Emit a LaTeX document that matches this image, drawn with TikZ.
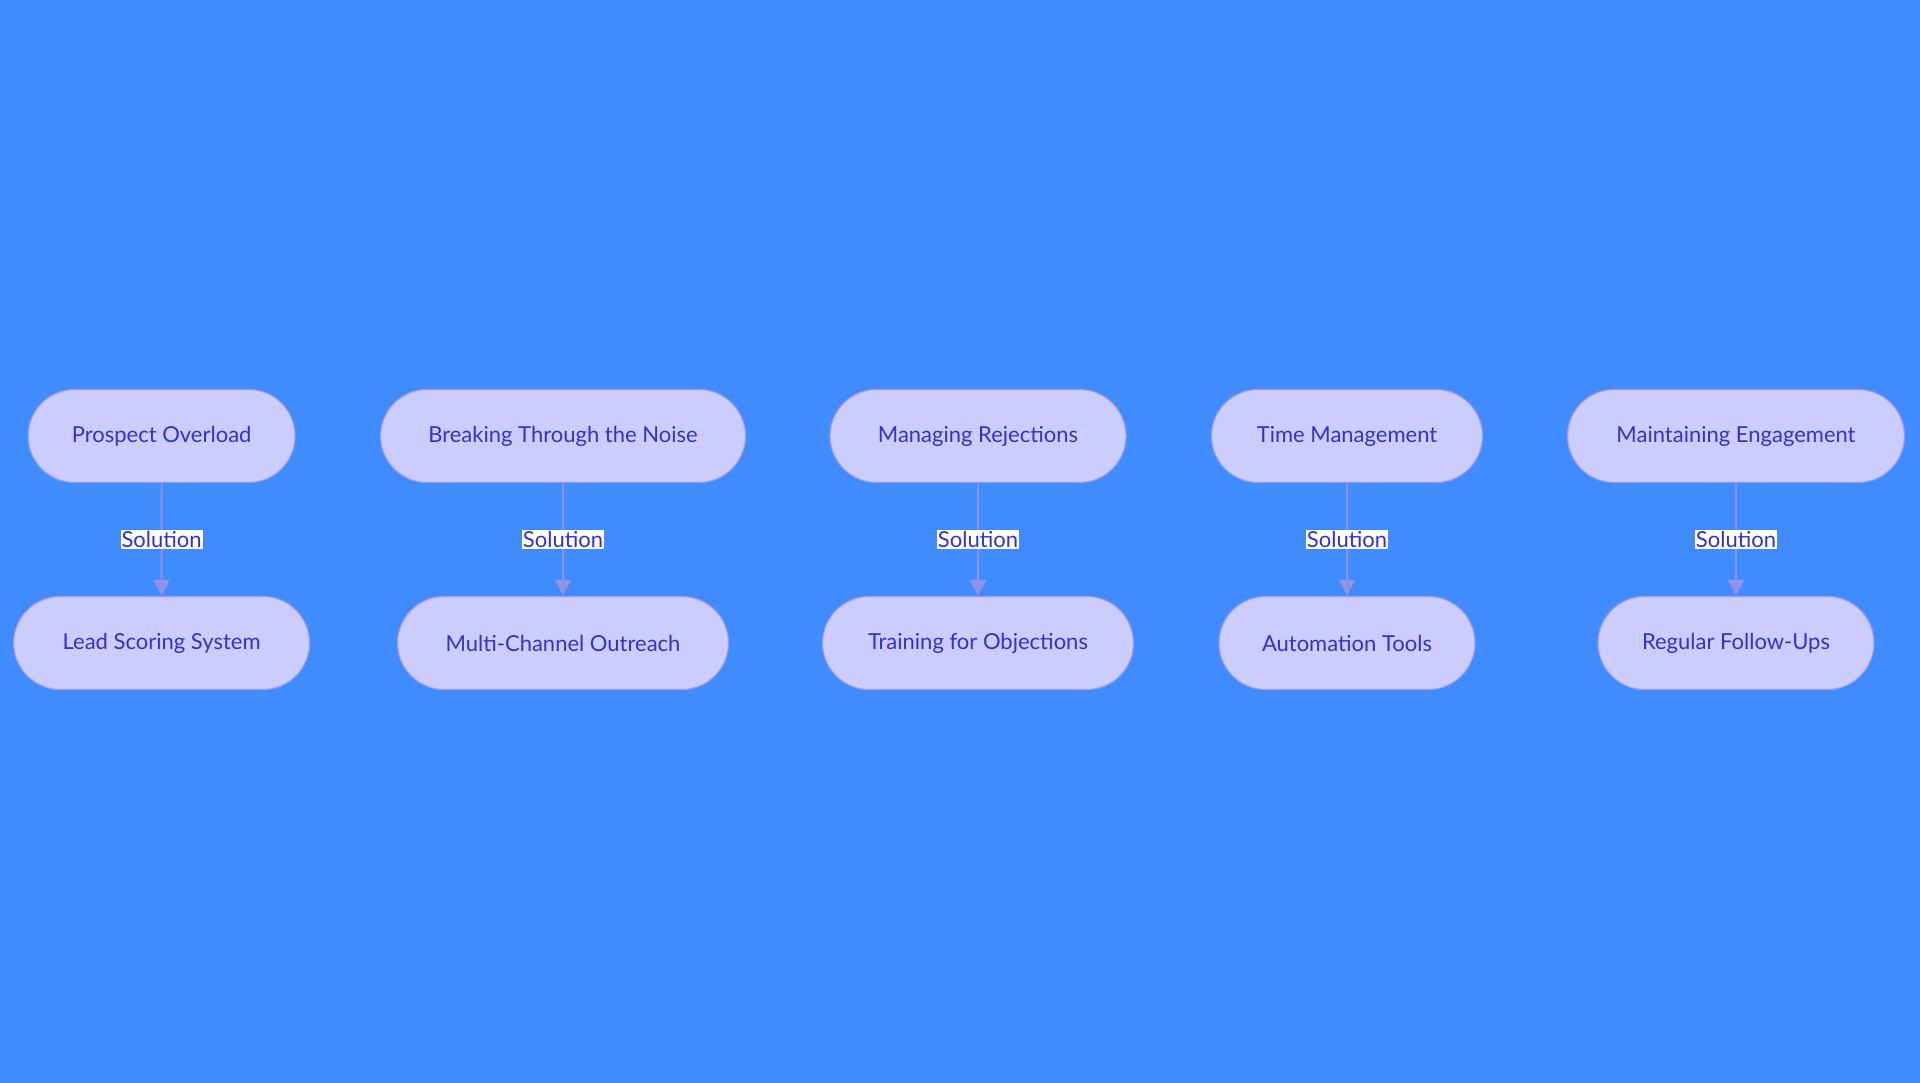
\documentclass[tikz,border=0pt]{standalone}
\usepackage{fontspec}
\setmainfont{Lato}
\usetikzlibrary{arrows.meta}
\definecolor{bg}{HTML}{408CFF}
\definecolor{nf}{HTML}{CCCCFF}
\definecolor{nb}{HTML}{9C9CEC}
\definecolor{tx}{HTML}{3333CC}
\definecolor{ed}{HTML}{9090E8}
\begin{document}
\begin{tikzpicture}[x=1pt,y=-1pt,
  box/.style={draw=nb,line width=1.2pt,fill=nf,rounded rectangle,minimum height=93pt,text=tx,font=\fontsize{22}{26}\selectfont,inner sep=0pt},
  lab/.style={fill=white,text=tx,font=\fontsize{22}{26}\selectfont,inner sep=1pt},
  con/.style={draw=ed,line width=2pt,-{Triangle[length=16pt,width=16pt]}}]
\usetikzlibrary{shapes.misc}
\fill[bg] (0,0) rectangle (1920,1083);
\useasboundingbox (0,0) rectangle (1920,1083);
\foreach \n/\x/\wa/\wb/\ta/\tb in {
 1/161.6/267/296/Prospect Overload/Lead Scoring System,
 2/563/365/331/Breaking Through the Noise/Multi-Channel Outreach,
 3/978/296/311/Managing Rejections/Training for Objections,
 4/1347/271/256/Time Management/Automation Tools,
 5/1736/337/276/Maintaining Engagement/Regular Follow-Ups}{
 \node[box,minimum width=\wa pt] (t\n) at (\x,436) {\ta};
 \node[box,minimum width=\wb pt] (b\n) at (\x,643) {\tb};
 \draw[con] (t\n) -- node[lab]{Solution} (b\n);
}
\end{tikzpicture}
\end{document}
